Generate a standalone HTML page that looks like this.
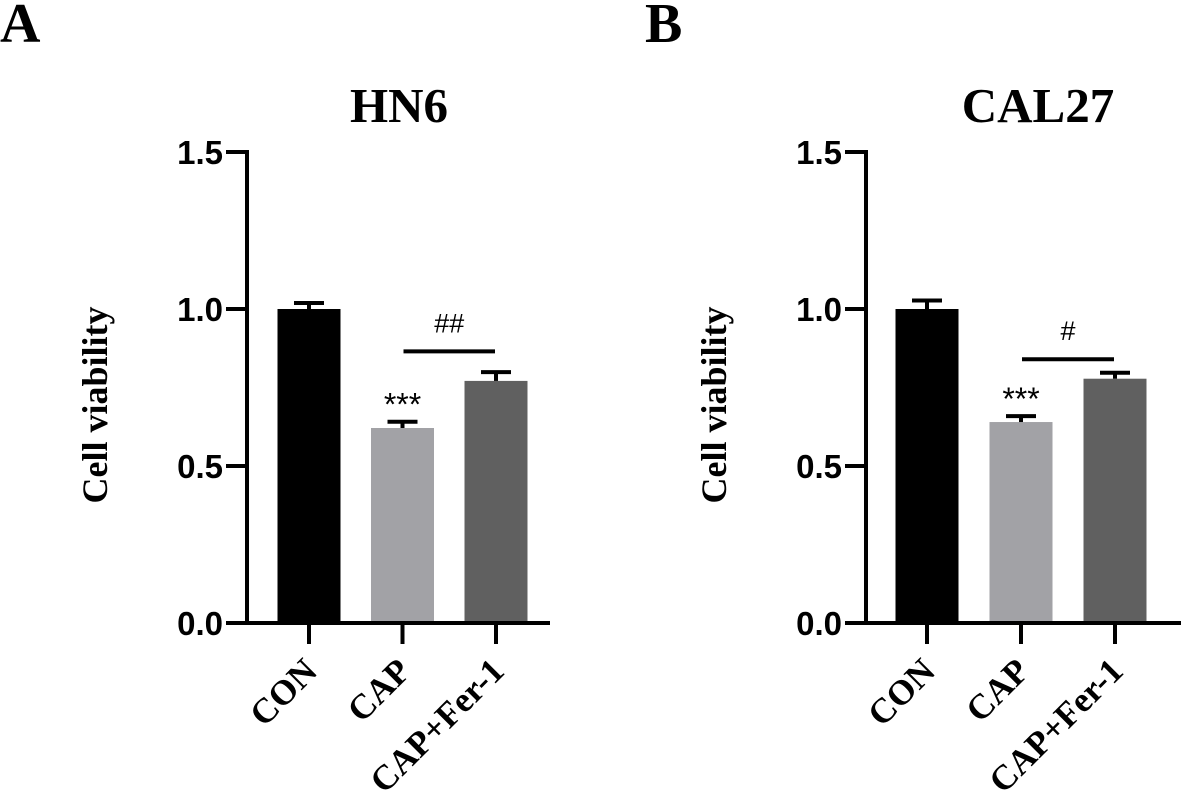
<!DOCTYPE html>
<html><head><meta charset="utf-8"><style>
body{margin:0;background:#fff;}
svg{display:block;}
.serif{font-family:"Liberation Serif",serif;font-weight:bold;}
.sans{font-family:"Liberation Sans",sans-serif;font-weight:bold;}
</style></head><body>
<svg id="chart" width="1181" height="799" viewBox="0 0 1181 799" xmlns="http://www.w3.org/2000/svg"></svg>
<script>
const categories = ["CON", "CAP", "CAP+Fer-1"];
const hn6Values = [1.0, 0.621, 0.771];
const hn6Errors = [0.019, 0.02, 0.028];
const cal27Values = [1.0, 0.64, 0.778];
const cal27Errors = [0.027, 0.019, 0.019];
const yTicks = [0.0, 0.5, 1.0, 1.5];
const yTickLabels = ["0.0", "0.5", "1.0", "1.5"];
const barColors = ["#000000", "#a2a2a6", "#606060"];
const hn6Stars = "***";
const hn6Sig = "##";
const hn6SigLevel = 0.865;
const cal27Stars = "***";
const cal27Sig = "#";
const cal27SigLevel = 0.84;

const NS = "http://www.w3.org/2000/svg";
const svg = document.getElementById("chart");
function mk(tag, attrs, parent) {
  const e = document.createElementNS(NS, tag);
  for (const k in attrs) e.setAttribute(k, attrs[k]);
  (parent || svg).appendChild(e);
  return e;
}
function drawPanel(opt) {
  const g = mk("g", {});
  
  
  const y0 = 623, y15 = 152;
  const yScale = v => y0 - (v / 1.5) * (y0 - y15);
  const xc = i => opt.firstX + i * opt.step;
  const bw = 63;
  const L = mk("text", {x: opt.letterX, y: 42, "font-size": 56, class: "serif"}, g);
  L.textContent = opt.letter;
  
  
  const T = mk("text", {x: opt.titleX, y: 122, "font-size": 49, class: "serif", "text-anchor": "middle"}, g);
  T.textContent = opt.title;
  
  
  const yt = mk("text", {x: 0, y: 0, "font-size": 36, class: "serif", "text-anchor": "middle",
    transform: `translate(${opt.axisX - 140},405) rotate(-90)`}, g);
  yt.textContent = "Cell viability";
  
  
  opt.values.forEach((v, i) => {
    const r = mk("rect", {x: xc(i) - bw / 2, y: yScale(v), width: bw, height: y0 - yScale(v), fill: barColors[i]}, g);
    
    
    const ey = yScale(v + opt.errors[i]);
    const e1 = mk("line", {x1: xc(i), x2: xc(i), y1: yScale(v), y2: ey, stroke: "#000", "stroke-width": 4}, g);
    
    
    const e2 = mk("line", {x1: xc(i) - 15, x2: xc(i) + 15, y1: ey, y2: ey, stroke: "#000", "stroke-width": 4}, g);
    
    
  });
  const ya = mk("line", {x1: opt.axisX, x2: opt.axisX, y1: y15 - 2, y2: y0 + 2, stroke: "#000", "stroke-width": 4}, g);
  
  
  const xa = mk("line", {x1: opt.axisX - 21, x2: opt.axisEnd, y1: y0, y2: y0, stroke: "#000", "stroke-width": 4}, g);
  
  
  yTicks.forEach((t, i) => {
    const tk = mk("line", {x1: opt.axisX - 21, x2: opt.axisX, y1: yScale(t), y2: yScale(t), stroke: "#000", "stroke-width": 4}, g);
    
    
    const tl = mk("text", {x: opt.axisX - 24, y: yScale(t) + 12, "font-size": 33, class: "sans", "text-anchor": "end"}, g);
    tl.textContent = yTickLabels[i];
    
    
  });
  categories.forEach((c, i) => {
    const tk = mk("line", {x1: xc(i), x2: xc(i), y1: y0, y2: y0 + 21, stroke: "#000", "stroke-width": 4}, g);
    
    
    const tl = mk("text", {x: 0, y: 0, "font-size": 35, class: "serif", "text-anchor": "end",
      transform: `translate(${xc(i) + 10},${y0 + 50}) rotate(-45)`}, g);
    tl.textContent = c;
    
    
  });
  const st = mk("text", {x: xc(1), y: yScale(opt.values[1] + opt.errors[1]) + 2, "font-size": 32, "font-family": "Liberation Sans, sans-serif", "text-anchor": "middle"}, g);
  st.setAttribute('dy', '-0.25em');
  st.textContent = opt.stars;
  
  
  const by = yScale(opt.sigLevel);
  const br = mk("line", {x1: xc(1) + 1, x2: xc(2) - 1, y1: by, y2: by, stroke: "#000", "stroke-width": 4}, g);
  
  
  const sg = mk("text", {x: (xc(1) + xc(2)) / 2, y: by - 19, "font-size": 27, "font-family": "Liberation Sans, sans-serif", "text-anchor": "middle"}, g);
  sg.textContent = opt.sig;
  
  
}
drawPanel({name: "panel-a-hn6", letter: "A", letterX: 0, title: "HN6", titleX: 399, axisX: 247, axisEnd: 550,
  firstX: 309, step: 93.5, values: hn6Values, errors: hn6Errors, stars: hn6Stars, sig: hn6Sig, sigLevel: hn6SigLevel});
drawPanel({name: "panel-b-cal27", letter: "B", letterX: 645, title: "CAL27", titleX: 1038, axisX: 866, axisEnd: 1181,
  firstX: 927, step: 94, values: cal27Values, errors: cal27Errors, stars: cal27Stars, sig: cal27Sig, sigLevel: cal27SigLevel});
</script>
</body></html>
